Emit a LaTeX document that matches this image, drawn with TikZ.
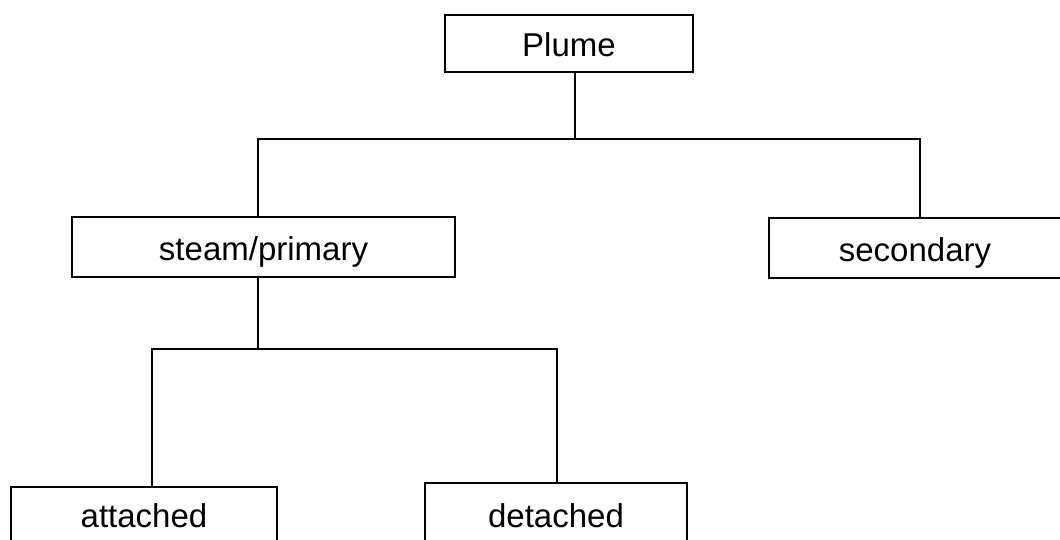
\documentclass[tikz,border=0pt]{standalone}
\usepackage{fontspec}
\setmainfont{Liberation Sans}
\begin{document}
\begin{tikzpicture}[x=1pt,y=-1pt,
  box/.style={draw, line width=1.6pt, inner sep=0pt,
    text height=30pt, text depth=4pt,
    font=\fontsize{33}{38}\selectfont},
  wire/.style={line width=1.6pt}]
\useasboundingbox (0,0) rectangle (1060,539);
\clip (0,0) rectangle (1060,539);

% boxes
\node[box, minimum width=248pt, minimum height=57pt] (plume)    at (569,43.5) {Plume};
\node[box, minimum width=383pt, minimum height=60pt] (steam)    at (263.5,247) {steam/primary};
\node[box, minimum width=292pt, minimum height=60pt] (second)   at (915,248) {secondary};
\node[box, minimum width=266pt, minimum height=54pt] (attached) at (144,514) {attached};
\node[box, minimum width=262pt, minimum height=62pt] (detached) at (556,514) {detached};

% junction points of the tree
\coordinate (pj) at (575,139);
\coordinate (t1) at (258,139);
\coordinate (t2) at (920,139);
\coordinate (b0) at (258,349);
\coordinate (b1) at (152,349);
\coordinate (b2) at (557,349);

% upper level
\draw[wire] (pj |- plume.south) -- (pj);
\draw[wire] (t1 |- steam.north) -- (t1) -- (t2) -- (t2 |- second.north);

% lower level
\draw[wire] (b0 |- steam.south) -- (b0);
\draw[wire] (b1 |- attached.north) -- (b1) -- (b2) -- (b2 |- detached.north);
\end{tikzpicture}
\end{document}
